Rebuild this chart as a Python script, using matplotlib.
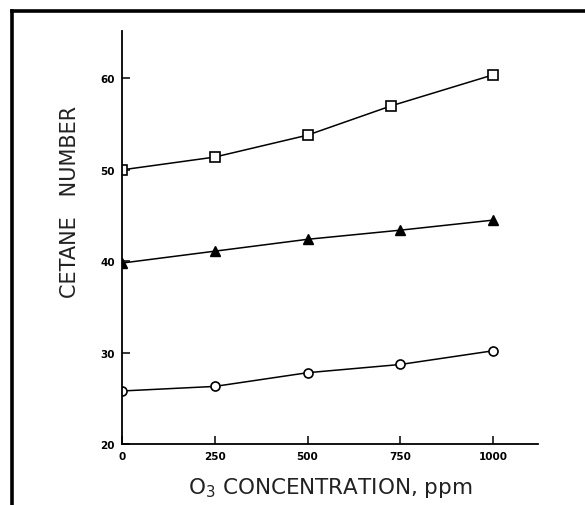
import matplotlib
matplotlib.use("Agg")
import matplotlib.pyplot as plt
from matplotlib.lines import Line2D

# O3 concentration (ppm) and cetane numbers
conc_square = [0, 250, 500, 725, 1000]
cetane_square = [50.0, 51.4, 53.8, 57.0, 60.4]

conc_triangle = [0, 250, 500, 750, 1000]
cetane_triangle = [39.8, 41.1, 42.4, 43.4, 44.5]

conc_circle = [0, 250, 500, 750, 1000]
cetane_circle = [25.8, 26.3, 27.8, 28.7, 30.2]

x_ticks = [0, 250, 500, 750, 1000]
y_ticks = [20, 30, 40, 50, 60]


def main():
    plt.rcParams.update({"font.family": "DejaVu Sans"})
    fig = plt.figure(figsize=(5.85, 5.06), dpi=100)
    ax = fig.add_axes([0.2085, 0.1206, 0.7112, 0.8162])

    line_kw = dict(color="black", linewidth=1.1)
    ax.plot(conc_square, cetane_square, marker="s", markersize=6.5,
            markerfacecolor="white", markeredgecolor="black", markeredgewidth=1.2, **line_kw)
    ax.plot(conc_triangle, cetane_triangle, marker="^", markersize=7,
            markerfacecolor="black", markeredgecolor="black", **line_kw)
    ax.plot(conc_circle, cetane_circle, marker="o", markersize=6.5,
            markerfacecolor="white", markeredgecolor="black", markeredgewidth=1.2, **line_kw)

    ax.set_xlim(0, 1121)
    ax.set_ylim(20, 65.2)
    ax.set_xticks(x_ticks)
    ax.set_yticks(y_ticks)
    ax.tick_params(direction="in", length=6, width=1.1, labelsize=7.5, pad=5)
    for lab in ax.get_xticklabels() + ax.get_yticklabels():
        lab.set_fontweight("bold")
    for side in ["top", "right"]:
        ax.spines[side].set_visible(False)
    for side in ["left", "bottom"]:
        ax.spines[side].set_linewidth(1.3)

    ax.set_xlabel("O$_3$ CONCENTRATION, ppm", fontsize=15.5, color="#222222", labelpad=10)
    ax.set_ylabel("CETANE   NUMBER", fontsize=15, color="#222222")
    ax.yaxis.set_label_coords(-0.102, 0.588)

    # outer frame (only top and left edges fall inside the crop)
    fig.add_artist(Line2D([12 / 585, 12 / 585], [0, 1 - 12 / 506],
                          transform=fig.transFigure, color="black", linewidth=2.6))
    fig.add_artist(Line2D([12 / 585, 1], [1 - 12 / 506, 1 - 12 / 506],
                          transform=fig.transFigure, color="black", linewidth=2.6))

    fig.savefig("out.png", dpi=100)
    plt.close(fig)


if __name__ == "__main__":
    main()
